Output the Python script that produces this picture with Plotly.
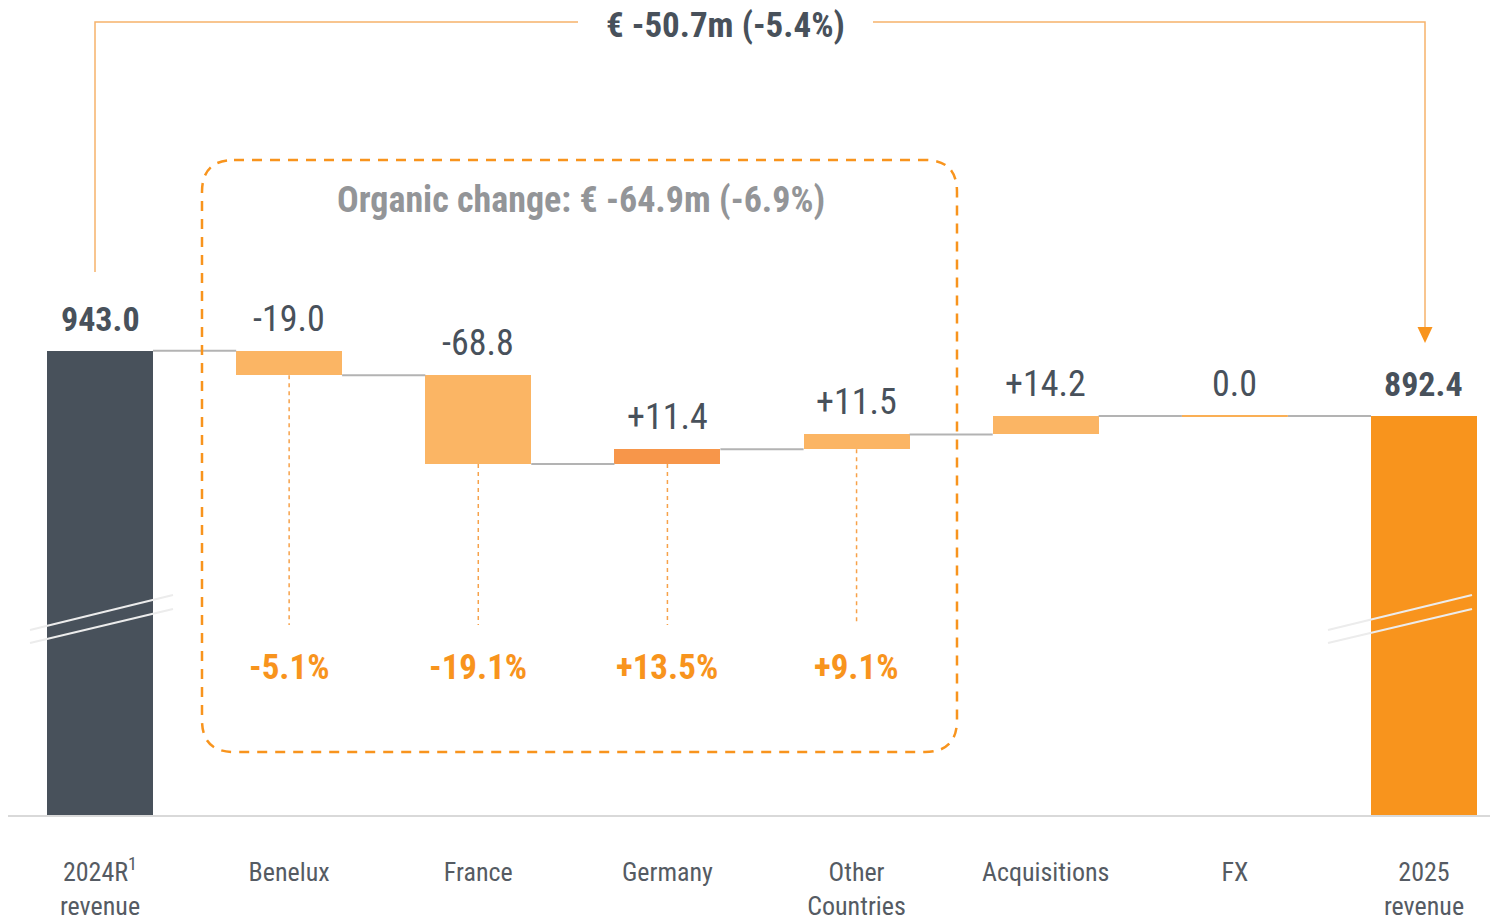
import plotly.graph_objects as go

categories = ["2024R<sup>1</sup><br>revenue", "Benelux", "France", "Germany",
              "Other<br>Countries", "Acquisitions", "FX", "2025<br>revenue"]
start_value = 943.0
changes = [-19.0, -68.8, 11.4, 11.5, 14.2, 0.0]
end_value = 892.4
change_labels = ["-19.0", "-68.8", "+11.4", "+11.5", "+14.2", "0.0"]
organic_pct = ["-5.1%", "-19.1%", "+13.5%", "+9.1%"]
total_title = "€ -50.7m (-5.4%)"
organic_title = "Organic change: € -64.9m (-6.9%)"

FONT = "Liberation Sans Narrow, Arial Narrow, Roboto Condensed, sans-serif"
DARK = "#48515b"
LIGHT_OR = "#fbb564"
MID_OR = "#f7964a"
ORANGE = "#f8941d"
GREY_TXT = "#939598"

bar_colors = [DARK, LIGHT_OR, LIGHT_OR, MID_OR, LIGHT_OR, LIGHT_OR, LIGHT_OR, ORANGE]
bar_w = 0.56

# floating bar geometry from the values
bases, heights, levels = [0.0], [start_value], [start_value]
level = start_value
for c in changes:
    new = round(level + c, 1)
    bases.append(min(level, new))
    heights.append(abs(c))
    level = new
    levels.append(level)
bases.append(0.0)
heights.append(end_value)
levels.append(end_value)
tops = [b + h for b, h in zip(bases, heights)]

# page is offset by the 8px body margin; positions below are page pixels
OFF = 8
FW, FH = 1498 - OFF, 920 - OFF
W = FW
H = 815 - OFF


def px(x):
    return (x - OFF) / W


def py(y):
    return 1 - (y - OFF) / H


k = 65.3 / 50.6
y_lo = 583.2
y_hi = y_lo + H / k
x_lo = (OFF - 100) / 189.14
x_hi = (1498 - 100) / 189.14

fig = go.Figure()
fig.add_trace(go.Bar(
    x=list(range(8)), y=heights, base=bases, width=bar_w,
    marker=dict(color=bar_colors, line=dict(width=0)),
    hoverinfo="skip", showlegend=False,
))

shapes = []
# connectors
for i in range(7):
    lv = levels[i]
    shapes.append(dict(type="line", xref="x", yref="y",
                       x0=i + bar_w / 2, x1=i + 1 - bar_w / 2, y0=lv, y1=lv,
                       line=dict(color="#b3b3b3", width=2)))
# zero-change bar drawn as a thin line
for i, c in enumerate(changes, start=1):
    if c == 0:
        shapes.append(dict(type="line", xref="x", yref="y",
                           x0=i - bar_w / 2, x1=i + bar_w / 2, y0=levels[i], y1=levels[i],
                           line=dict(color=ORANGE, width=1.5)))

# dotted drop lines for organic countries
y_stop = 730.4
for i in range(1, 5):
    shapes.append(dict(type="line", xref="x", yref="y",
                       x0=i, x1=i, y0=bases[i], y1=y_stop,
                       line=dict(color="#f7a24a", width=1.5, dash="4px,4px")))

# rounded dashed box
x0, x1, y0, y1, r = 202, 957, 160, 752, 32
pts = [
    ("M", [(x0 + r, y0)]), ("L", [(x1 - r, y0)]), ("Q", [(x1, y0), (x1, y0 + r)]),
    ("L", [(x1, y1 - r)]), ("Q", [(x1, y1), (x1 - r, y1)]), ("L", [(x0 + r, y1)]),
    ("Q", [(x0, y1), (x0, y1 - r)]), ("L", [(x0, y0 + r)]), ("Q", [(x0, y0), (x0 + r, y0)]),
]
path = " ".join(cmd + " " + " ".join(f"{px(a):.5f},{py(b):.5f}" for a, b in p) for cmd, p in pts) + " Z"
shapes.append(dict(type="path", xref="paper", yref="paper", path=path,
                   line=dict(color=ORANGE, width=2.5, dash="10px,8px")))

# bracket for total change
br = "#f6b36b"
shapes.append(dict(type="path", xref="paper", yref="paper",
                   path=f"M {px(95)},{py(272)} L {px(95)},{py(22)} L {px(578)},{py(22)}",
                   line=dict(color=br, width=1.5)))
shapes.append(dict(type="path", xref="paper", yref="paper",
                   path=f"M {px(873)},{py(22)} L {px(1425)},{py(22)} L {px(1425)},{py(330)}",
                   line=dict(color=br, width=1.5)))
shapes.append(dict(type="path", xref="paper", yref="paper",
                   path=f"M {px(1417.5)},{py(327)} L {px(1432.5)},{py(327)} L {px(1425)},{py(343)} Z",
                   fillcolor=ORANGE, line=dict(color=ORANGE, width=0)))

# axis break marks
for (ax, ay, bx, by) in [(30, 630, 173, 595), (30, 643, 173, 609),
                         (1328, 630, 1472, 595), (1328, 643, 1472, 609)]:
    shapes.append(dict(type="line", xref="paper", yref="paper",
                       x0=px(ax), y0=py(ay), x1=px(bx), y1=py(by),
                       line=dict(color="#ececec", width=2)))

annotations = []
value_texts = ["<b>%.1f</b>" % start_value] + change_labels + ["<b>%.1f</b>" % end_value]
for i, t in enumerate(value_texts):
    bold = t.startswith("<b>")
    annotations.append(dict(x=i, y=tops[i], xref="x", yref="y", text=t, showarrow=False,
                            yanchor="middle", yshift=32,
                            font=dict(family=FONT, size=34 if bold else 36, color=DARK)))
for i, t in enumerate(organic_pct, start=1):
    annotations.append(dict(x=i, y=py(667), xref="x", yref="paper", text="<b>%s</b>" % t,
                            showarrow=False, yanchor="middle",
                            font=dict(family=FONT, size=35, color=ORANGE)))
annotations.append(dict(x=px(725), y=py(26), xref="paper", yref="paper",
                        text="<b>%s</b>" % total_title, showarrow=False, yanchor="middle",
                        font=dict(family=FONT, size=35, color=DARK)))
annotations.append(dict(x=px(581), y=py(200), xref="paper", yref="paper",
                        text="<b>%s</b>" % organic_title, showarrow=False, yanchor="middle",
                        font=dict(family=FONT, size=36, color=GREY_TXT)))

fig.update_layout(
    width=FW, height=FH,
    margin=dict(l=0, r=0, t=0, b=FH - H),
    plot_bgcolor="white", paper_bgcolor="white",
    shapes=shapes, annotations=annotations,
    bargap=0,
    xaxis=dict(range=[x_lo, x_hi], tickvals=list(range(8)), ticktext=categories,
               showgrid=False, zeroline=False, showline=True, linecolor="#d9d9d9",
               linewidth=2, ticks="", ticklabelstandoff=33, automargin=False,
               tickfont=dict(family=FONT, size=26, color="#555b63")),
    yaxis=dict(range=[y_lo, y_hi], visible=False, showgrid=False, zeroline=False,
               automargin=False),
    font=dict(family=FONT),
)

fig.write_html("out.html")
